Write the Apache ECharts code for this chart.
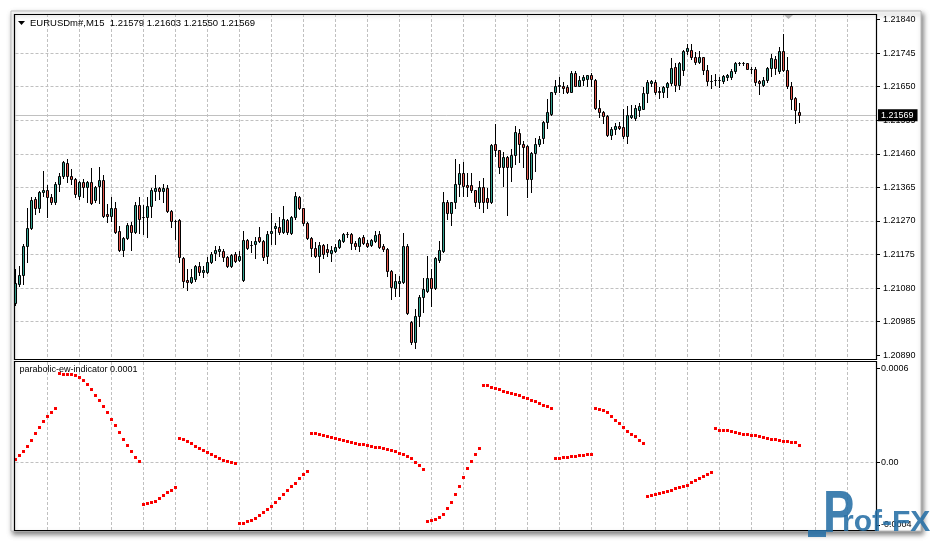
<!DOCTYPE html>
<html><head><meta charset="utf-8">
<script src="https://cdn.jsdelivr.net/npm/echarts@6/dist/echarts.min.js"></script>
<style>html,body{margin:0;padding:0;background:#fff}#c{width:935px;height:542px}</style>
</head><body><div id="c"></div>
<script>
// ---------- data ----------
const symbolTitle = 'EURUSDm#,M15  1.21579 1.21603 1.21550 1.21569';
const indicatorTitle = 'parabolic-ew-indicator 0.0001';
const priceTicks = [1.20890,1.20985,1.21080,1.21175,1.21270,1.21365,1.21460,1.21555,1.21650,1.21745,1.21840];
const indicatorTicks = [0.0006, 0, -0.0004];
const lastPrice = 1.21569;

const open = [1.21037,1.21091,1.21116,1.21198,1.21249,1.21331,1.21306,1.21351,1.21359,1.21337,
1.21323,1.21374,1.21396,1.21433,1.21396,1.21390,1.21342,1.21379,1.21365,1.21379,
1.21328,1.21368,1.21385,1.21289,1.21283,1.21306,1.21241,1.21187,1.21221,1.21260,
1.21238,1.21314,1.21280,1.21280,1.21311,1.21354,1.21362,1.21354,1.21362,1.21297,
1.21269,1.21272,1.21164,1.21102,1.21096,1.21105,1.21142,1.21125,1.21125,1.21153,
1.21178,1.21184,1.21184,1.21167,1.21142,1.21176,1.21159,1.21102,1.21215,1.21201,
1.21204,1.21226,1.21212,1.21170,1.21235,1.21249,1.21252,1.21238,1.21272,1.21235,
1.21280,1.21337,1.21306,1.21263,1.21221,1.21193,1.21170,1.21201,1.21190,1.21178,
1.21184,1.21195,1.21212,1.21232,1.21232,1.21207,1.21198,1.21224,1.21207,1.21201,
1.21212,1.21232,1.21198,1.21190,1.21128,1.21080,1.21094,1.21096,1.21198,1.20983,
1.20927,1.21000,1.21054,1.21071,1.21108,1.21080,1.21161,1.21184,1.21325,1.21292,
1.21323,1.21374,1.21407,1.21371,1.21371,1.21357,1.21323,1.21365,1.21334,1.21323,
1.21487,1.21470,1.21424,1.21450,1.21422,1.21458,1.21520,1.21487,1.21481,1.21388,
1.21461,1.21487,1.21504,1.21549,1.21574,1.21634,1.21651,1.21653,1.21648,1.21636,
1.21690,1.21653,1.21668,1.21673,1.21682,1.21670,1.21591,1.21577,1.21566,1.21512,
1.21529,1.21540,1.21535,1.21509,1.21563,1.21560,1.21583,1.21588,1.21631,1.21659,
1.21662,1.21639,1.21634,1.21648,1.21659,1.21707,1.21656,1.21696,1.21750,1.21755,
1.21735,1.21721,1.21733,1.21696,1.21665,1.21668,1.21668,1.21665,1.21676,1.21676,
1.21693,1.21718,1.21716,1.21716,1.21701,1.21699,1.21665,1.21656,1.21668,1.21704,
1.21727,1.21693,1.21750,1.21696,1.21651,1.21619,1.21579];
const high = [1.21133,1.21142,1.21204,1.21306,1.21337,1.21337,1.21354,1.21410,1.21371,1.21345,
1.21379,1.21407,1.21441,1.21444,1.21416,1.21393,1.21382,1.21388,1.21382,1.21419,
1.21368,1.21424,1.21399,1.21317,1.21337,1.21323,1.21255,1.21226,1.21263,1.21266,
1.21323,1.21337,1.21314,1.21337,1.21362,1.21399,1.21365,1.21374,1.21371,1.21300,
1.21272,1.21275,1.21167,1.21133,1.21133,1.21145,1.21153,1.21142,1.21167,1.21181,
1.21198,1.21198,1.21190,1.21170,1.21176,1.21181,1.21184,1.21241,1.21218,1.21212,
1.21226,1.21252,1.21215,1.21241,1.21292,1.21263,1.21280,1.21311,1.21275,1.21283,
1.21351,1.21340,1.21308,1.21266,1.21224,1.21210,1.21210,1.21204,1.21204,1.21198,
1.21204,1.21218,1.21235,1.21238,1.21235,1.21212,1.21224,1.21229,1.21215,1.21218,
1.21241,1.21243,1.21204,1.21193,1.21130,1.21119,1.21113,1.21235,1.21204,1.20986,
1.21020,1.21060,1.21108,1.21170,1.21133,1.21167,1.21212,1.21351,1.21328,1.21325,
1.21444,1.21430,1.21436,1.21407,1.21407,1.21359,1.21382,1.21393,1.21362,1.21489,
1.21543,1.21472,1.21464,1.21453,1.21475,1.21540,1.21529,1.21495,1.21484,1.21464,
1.21506,1.21509,1.21552,1.21614,1.21636,1.21670,1.21676,1.21662,1.21656,1.21693,
1.21693,1.21679,1.21684,1.21684,1.21690,1.21673,1.21611,1.21580,1.21569,1.21537,
1.21546,1.21549,1.21588,1.21594,1.21597,1.21597,1.21605,1.21648,1.21670,1.21670,
1.21670,1.21648,1.21653,1.21662,1.21730,1.21718,1.21721,1.21755,1.21772,1.21772,
1.21747,1.21750,1.21735,1.21710,1.21682,1.21687,1.21676,1.21682,1.21687,1.21699,
1.21721,1.21721,1.21721,1.21718,1.21707,1.21707,1.21670,1.21676,1.21707,1.21741,
1.21738,1.21761,1.21798,1.21735,1.21662,1.21622,1.21603];
const low = [1.21031,1.21085,1.21091,1.21153,1.21246,1.21289,1.21294,1.21340,1.21280,1.21317,
1.21317,1.21354,1.21393,1.21379,1.21374,1.21337,1.21331,1.21337,1.21323,1.21317,
1.21323,1.21320,1.21280,1.21266,1.21269,1.21235,1.21184,1.21170,1.21218,1.21187,
1.21235,1.21235,1.21232,1.21224,1.21280,1.21328,1.21331,1.21323,1.21294,1.21252,
1.21218,1.21153,1.21082,1.21074,1.21094,1.21099,1.21116,1.21111,1.21122,1.21150,
1.21161,1.21170,1.21156,1.21139,1.21139,1.21153,1.21156,1.21099,1.21190,1.21181,
1.21164,1.21210,1.21161,1.21150,1.21204,1.21204,1.21232,1.21235,1.21232,1.21232,
1.21277,1.21303,1.21260,1.21218,1.21170,1.21167,1.21125,1.21164,1.21170,1.21156,
1.21181,1.21193,1.21210,1.21224,1.21190,1.21190,1.21184,1.21204,1.21195,1.21198,
1.21210,1.21193,1.21184,1.21113,1.21048,1.21057,1.21057,1.21094,1.21006,1.20921,
1.20910,1.20972,1.21012,1.21068,1.21029,1.21077,1.21153,1.21181,1.21275,1.21260,
1.21306,1.21340,1.21340,1.21340,1.21351,1.21311,1.21308,1.21294,1.21306,1.21320,
1.21453,1.21407,1.21368,1.21286,1.21382,1.21430,1.21436,1.21424,1.21337,1.21351,
1.21410,1.21481,1.21492,1.21532,1.21569,1.21628,1.21634,1.21631,1.21631,1.21634,
1.21651,1.21651,1.21656,1.21651,1.21651,1.21588,1.21563,1.21546,1.21509,1.21501,
1.21515,1.21529,1.21506,1.21492,1.21560,1.21557,1.21566,1.21586,1.21608,1.21651,
1.21628,1.21619,1.21622,1.21622,1.21656,1.21639,1.21642,1.21682,1.21741,1.21727,
1.21713,1.21718,1.21687,1.21656,1.21645,1.21656,1.21648,1.21659,1.21670,1.21673,
1.21690,1.21710,1.21710,1.21699,1.21690,1.21656,1.21628,1.21651,1.21662,1.21679,
1.21687,1.21690,1.21693,1.21645,1.21586,1.21546,1.21550];
const close = [1.21094,1.21116,1.21198,1.21249,1.21328,1.21306,1.21351,1.21359,1.21337,1.21323,
1.21376,1.21396,1.21436,1.21396,1.21390,1.21345,1.21379,1.21365,1.21379,1.21320,
1.21365,1.21385,1.21283,1.21283,1.21306,1.21238,1.21187,1.21221,1.21258,1.21238,
1.21314,1.21277,1.21280,1.21311,1.21357,1.21362,1.21354,1.21362,1.21297,1.21269,
1.21269,1.21167,1.21099,1.21096,1.21111,1.21142,1.21125,1.21130,1.21153,1.21176,
1.21187,1.21190,1.21167,1.21142,1.21173,1.21156,1.21170,1.21215,1.21193,1.21201,
1.21212,1.21212,1.21167,1.21232,1.21243,1.21255,1.21238,1.21275,1.21238,1.21280,
1.21340,1.21306,1.21263,1.21221,1.21193,1.21170,1.21201,1.21176,1.21181,1.21187,
1.21195,1.21215,1.21232,1.21232,1.21207,1.21198,1.21221,1.21207,1.21198,1.21215,
1.21229,1.21195,1.21190,1.21128,1.21082,1.21099,1.21099,1.21198,1.21009,1.20927,
1.21000,1.21054,1.21077,1.21108,1.21080,1.21164,1.21187,1.21325,1.21292,1.21323,
1.21374,1.21405,1.21368,1.21365,1.21357,1.21323,1.21365,1.21325,1.21323,1.21484,
1.21472,1.21424,1.21450,1.21422,1.21458,1.21523,1.21487,1.21478,1.21388,1.21461,
1.21487,1.21501,1.21549,1.21577,1.21634,1.21653,1.21656,1.21645,1.21636,1.21690,
1.21653,1.21670,1.21676,1.21682,1.21673,1.21591,1.21577,1.21566,1.21512,1.21529,
1.21540,1.21532,1.21509,1.21571,1.21571,1.21591,1.21594,1.21631,1.21662,1.21665,
1.21636,1.21634,1.21648,1.21659,1.21704,1.21656,1.21718,1.21750,1.21758,1.21735,
1.21721,1.21733,1.21696,1.21665,1.21665,1.21668,1.21668,1.21679,1.21682,1.21693,
1.21718,1.21718,1.21718,1.21701,1.21701,1.21662,1.21659,1.21668,1.21704,1.21730,
1.21704,1.21750,1.21696,1.21651,1.21614,1.21583,1.21569];

const ewValues = [0.000021,0.000045,0.000070,0.000104,0.000140,0.000185,0.000223,0.000262,0.000295,0.000319,0.000345,
0.000572,0.000565,0.000565,0.000565,0.000559,0.000544,0.000523,0.000498,0.000468,0.000428,0.000396,0.000359,0.000321,0.000276,0.000238,0.000191,0.000149,0.000108,0.000070,0.000034,0.000006,
-0.000268,-0.000262,-0.000255,-0.000247,-0.000230,-0.000211,-0.000191,-0.000179,-0.000160,
0.000153,0.000147,0.000138,0.000121,0.000106,0.000089,0.000077,0.000064,0.000051,0.000038,0.000026,0.000013,0.000006,0.000000,-0.000006,
-0.000389,-0.000389,-0.000375,-0.000368,-0.000357,-0.000338,-0.000319,-0.000300,-0.000281,-0.000253,-0.000228,-0.000204,-0.000179,-0.000153,-0.000132,-0.000102,-0.000075,-0.000057,
0.000185,0.000185,0.000179,0.000172,0.000166,0.000160,0.000153,0.000147,0.000140,0.000134,0.000128,0.000121,0.000115,0.000115,0.000108,0.000102,0.000096,0.000096,0.000089,0.000083,0.000077,0.000070,0.000057,0.000051,0.000038,0.000026,0.000000,-0.000019,-0.000045,
-0.000377,-0.000370,-0.000364,-0.000351,-0.000332,-0.000294,-0.000255,-0.000204,-0.000153,-0.000096,-0.000038,0.000006,0.000051,0.000089,
0.000491,0.000491,0.000479,0.000472,0.000466,0.000453,0.000447,0.000440,0.000434,0.000428,0.000415,0.000408,0.000396,0.000389,0.000377,0.000364,0.000357,0.000345,
0.000026,0.000026,0.000032,0.000032,0.000038,0.000038,0.000045,0.000045,0.000051,0.000051,
0.000345,0.000338,0.000332,0.000319,0.000294,0.000268,0.000249,0.000223,0.000198,0.000179,0.000166,0.000140,0.000121,
-0.000217,-0.000211,-0.000204,-0.000198,-0.000191,-0.000185,-0.000179,-0.000166,-0.000160,-0.000153,-0.000147,-0.000128,-0.000115,-0.000102,-0.000089,-0.000077,-0.000064,
0.000217,0.000206,0.000204,0.000204,0.000198,0.000191,0.000185,0.000179,0.000179,0.000172,0.000172,0.000166,0.000160,0.000153,0.000147,0.000147,0.000140,0.000134,0.000134,0.000128,0.000128,0.000110];

// ---------- styling / build ----------
const TEAL = '#34a390', RED = '#e4574c', GRID = '#c0c0c0';
const FONT = '"Liberation Sans", Arial, sans-serif';
const candleData = open.map((o, i) => [i, o, close[i], low[i], high[i]]);
const ewData = ewValues.map((v, i) => [i, v]);
const priceLineData = close.map((c, i) => [i, c]);

function renderCandle(params, api) {
  const i = api.value(0), o = api.value(1), c = api.value(2), l = api.value(3), h = api.value(4);
  const po = api.coord([i, o]), pc = api.coord([i, c]), pl = api.coord([i, l]), ph = api.coord([i, h]);
  const cx = Math.floor(po[0] + 0.01) + 0.5;
  const yTop = Math.round(Math.min(po[1], pc[1])) + 0.5;
  const yBot = Math.round(Math.max(po[1], pc[1])) + 0.5;
  const yH = Math.round(ph[1]), yL = Math.round(pl[1]) + 1;
  const fill = c > o ? TEAL : (c < o ? RED : '#000');
  return { type: 'group', children: [
    { type: 'line', shape: { x1: cx, y1: yH, x2: cx, y2: yL }, style: { stroke: '#000', lineWidth: 1 } },
    { type: 'rect', shape: { x: cx - 1, y: yTop, width: 2, height: yBot - yTop }, style: { fill: fill, stroke: '#000', lineWidth: 1 } }
  ]};
}
function renderDot(params, api) {
  const p = api.coord([api.value(0), api.value(1)]);
  const x = Math.floor(p[0] + 0.01) - 1, y = Math.round(p[1]) - 1;
  return { type: 'group', children: [
    { type: 'rect', shape: { x: x, y: y, width: 3, height: 3 }, style: { fill: '#ff0000' } },
    { type: 'rect', shape: { x: x + 1, y: y + 1, width: 1, height: 1 }, style: { fill: '#e00000' } }
  ]};
}

const xAxisBase = (gi) => ({
  type: 'value', gridIndex: gi, min: 0, max: 215.375, interval: 8,
  axisLine: { show: false, onZero: false }, axisTick: { show: false }, axisLabel: { show: false },
  splitLine: { show: true, showMinLine: false, showMaxLine: false, lineStyle: { color: GRID, type: [3, 2], width: 1 } }
});

const chart = echarts.init(document.getElementById('c'), null, { renderer: 'canvas' });
chart.setOption({
  animation: false,
  backgroundColor: '#fff',
  grid: [
    { left: 15.5, top: 14, width: 861.5, height: 346 },
    { left: 15.5, top: 362, width: 861.5, height: 169 }
  ],
  xAxis: [xAxisBase(0), xAxisBase(1)],
  yAxis: [
    { type: 'value', gridIndex: 0, position: 'right', min: 1.208767, max: 1.2185556,
      axisLine: { show: false, onZero: false },
      axisTick: { show: true, customValues: priceTicks, length: 3, lineStyle: { color: '#000' } },
      axisLabel: { customValues: priceTicks, formatter: v => Number(v).toFixed(5), margin: 6, color: '#000', fontSize: 9, fontFamily: FONT },
      splitLine: { show: true, showMinLine: false, showMaxLine: false, lineStyle: { color: GRID, type: [3, 2], width: 1 } } },
    { type: 'value', gridIndex: 1, position: 'right', min: -0.0004385, max: 0.0006402,
      axisLine: { show: false, onZero: false },
      axisTick: { show: true, customValues: indicatorTicks, length: 3, lineStyle: { color: '#000' } },
      axisLabel: { customValues: indicatorTicks, formatter: v => (Number(v) === 0 ? '0.00' : Number(v).toFixed(4)), margin: 4, color: '#000', fontSize: 9, fontFamily: FONT },
      splitLine: { show: false } }
  ],
  series: [
    { type: 'line', name: 'price', xAxisIndex: 0, yAxisIndex: 0, data: priceLineData, showSymbol: false, silent: true,
      lineStyle: { opacity: 0, width: 0 }, z: 4,
      markLine: { silent: true, symbol: ['none', 'none'], animation: false, precision: 5,
        lineStyle: { color: '#c0c0c0', type: 'solid', width: 1 },
        label: { show: true, position: 'end', distance: 1, formatter: String(lastPrice.toFixed(5)),
          color: '#fff', backgroundColor: '#000', padding: [2, 4, 1, 3], fontSize: 9, fontFamily: FONT },
        data: [{ yAxis: lastPrice }] } },
    { type: 'custom', name: 'EURUSD', xAxisIndex: 0, yAxisIndex: 0, renderItem: renderCandle,
      encode: { x: 0, y: [1, 2, 3, 4] }, data: candleData, clip: true, z: 5 },
    { type: 'custom', name: 'parabolic-ew', xAxisIndex: 1, yAxisIndex: 1, renderItem: renderDot,
      encode: { x: 0, y: 1 }, data: ewData, z: 5, silent: true },
    { type: 'line', xAxisIndex: 1, yAxisIndex: 1, data: ewData, showSymbol: false, silent: true,
      lineStyle: { opacity: 0, width: 0 }, z: 2,
      markLine: { silent: true, symbol: ['none', 'none'], animation: false, label: { show: false },
        lineStyle: { color: GRID, type: [3, 2], width: 1 }, data: [{ yAxis: 0 }] } }
  ],
  graphic: [
    { type: 'rect', z: -10, shape: { x: 11, y: 11, width: 910, height: 520 },
      style: { fill: '#fff', stroke: '#bdbdbd', lineWidth: 1, shadowBlur: 5, shadowOffsetX: 2, shadowOffsetY: 3, shadowColor: 'rgba(0,0,0,0.5)' } },
    { type: 'rect', z: 50, shape: { x: 14.5, y: 14.5, width: 862, height: 345 }, style: { fill: null, stroke: '#000', lineWidth: 1.2 } },
    { type: 'rect', z: 50, shape: { x: 14.5, y: 361.5, width: 862, height: 169 }, style: { fill: null, stroke: '#000', lineWidth: 1.2 } },
    { type: 'polygon', z: 51, shape: { points: [[18, 21], [25, 21], [21.5, 25]] }, style: { fill: '#000' } },
    { type: 'polygon', z: 51, shape: { points: [[784, 15], [793, 15], [788.5, 19]] }, style: { fill: '#b4b4b4' } },
    { type: 'text', z: 51, x: 30, y: 18, style: { text: symbolTitle, font: '9.5px ' + FONT, fill: '#000', textVerticalAlign: 'top' } },
    { type: 'text', z: 51, x: 19.5, y: 365, style: { text: indicatorTitle, font: '9px ' + FONT, fill: '#000', textVerticalAlign: 'top' } },
    { type: 'group', z: 60, children: [
      { type: 'rect', z: 60, shape: { x: 808, y: 530, width: 18, height: 7 }, style: { fill: 'rgba(38,110,165,0.88)' } },
      { type: 'text', z: 60, x: 823, y: 485, scaleX: 0.78, style: { text: 'P', font: 'bold 60px ' + FONT, fill: 'rgba(38,110,165,0.88)', textVerticalAlign: 'top' } },
      { type: 'text', z: 60, x: 842, y: 508, style: { text: 'rof-FX', font: 'bold 30px ' + FONT, fill: 'rgba(38,110,165,0.88)', textVerticalAlign: 'top' } }
    ] }
  ]
});
</script>
</body></html>
